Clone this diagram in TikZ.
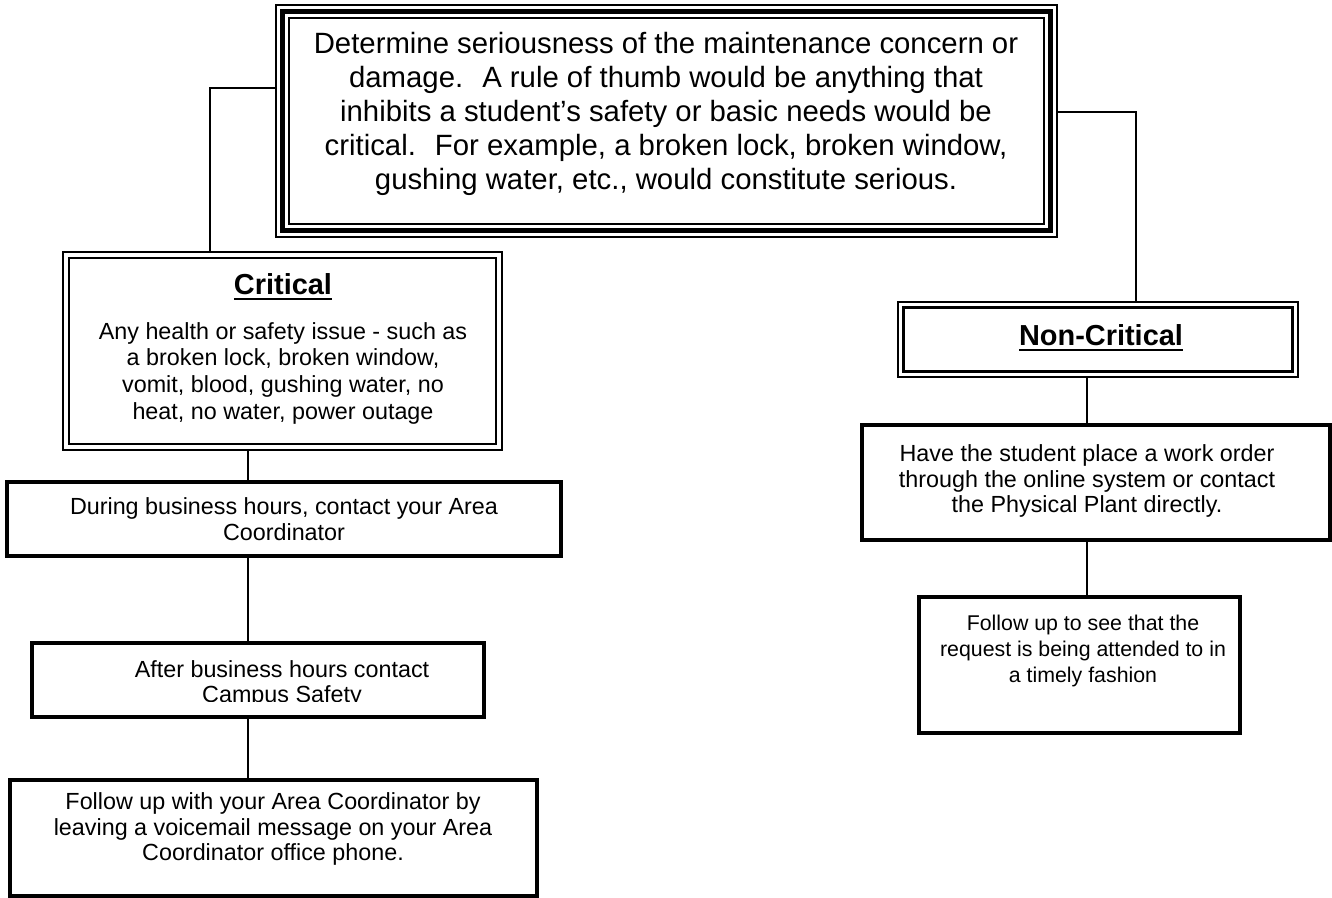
\documentclass[tikz,border=0pt]{standalone}
\usepackage{fontspec}
\setmainfont{Liberation Sans}
\newcommand\myul[1]{\setbox0\hbox{#1}\rlap{\vrule width\wd0 height -2pt depth 3.8pt}\box0}
\begin{document}
\begin{tikzpicture}[x=0.75pt,y=-0.75pt,
  conn/.style={line width=1.1pt},
  bsize/.style 2 args={minimum width=#1*0.75pt, minimum height=#2*0.75pt},
  plainbox/.style={draw, line width=2.6pt, fill=white, rectangle, inner sep=0pt, outer sep=0pt, line join=miter},
  dblbox/.style={draw, line width=1pt, fill=white, rectangle, inner sep=0pt, outer sep=0pt, line join=miter},
  toptxt/.style={align=center, inner sep=0pt, font=\fontsize{22}{25.5}\selectfont},
  titletxt/.style={align=center, inner sep=0pt, font=\fontsize{21.7}{25}\selectfont\bfseries},
  bodytxt/.style={align=center, inner sep=0pt, font=\fontsize{17.5}{19.2}\selectfont},
  smalltxt/.style={align=center, inner sep=0pt, font=\fontsize{16}{19.2}\selectfont},
  critbody/.style={align=center, inner sep=0pt, font=\fontsize{17.5}{20}\selectfont}
]
\useasboundingbox (0,0) rectangle (1332,898);

% boxes
\node[dblbox, line width=1.1pt, bsize={781}{232}] (top) at (666.5,121) {};
\draw[line width=3.75pt] ([shift={(6.5,6.5)}]top.north west) rectangle ([shift={(-6.5,-6.5)}]top.south east);
\draw[line width=1.1pt] ([shift={(13,13)}]top.north west) rectangle ([shift={(-13,-13)}]top.south east);

\node[dblbox, bsize={439}{198}] (crit) at (282.5,351) {};
\draw[line width=1.6pt] ([shift={(6,6)}]crit.north west) rectangle ([shift={(-6,-6)}]crit.south east);

\node[dblbox, bsize={400}{75}] (noncrit) at (1098,339.5) {};
\draw[line width=1.6pt] ([shift={(5.5,5.5)}]noncrit.north west) rectangle ([shift={(-5.5,-5.5)}]noncrit.south east);

\node[plainbox, bsize={554}{74}] (biz) at (284,519) {};
\node[plainbox, bsize={452}{74}] (after) at (258,680) {};
\node[plainbox, bsize={527}{116}] (final) at (273.5,838) {};
\node[plainbox, bsize={468}{115}] (have) at (1096,482.5) {};
\node[plainbox, bsize={321}{136}] (follow) at (1079.5,665) {};

% texts
\node[toptxt] (topT) at (666,114) {Determine seriousness of the maintenance concern or\\
damage.~ A rule of thumb would be anything that\\
inhibits a student’s safety or basic needs would be\\
critical.~ For example, a broken lock, broken window,\\
gushing water, etc., would constitute serious.};

\node[titletxt] (critH) at (283,287) {\myul{Critical}};
\node[critbody] (critT) at (283,373) {Any health or safety issue - such as\\
a broken lock, broken window,\\
vomit, blood, gushing water, no\\
heat, no water, power outage};

\node[titletxt] (noncritH) at (1101,338) {\myul{Non-Critical}};

\node[bodytxt] (bizT) at (284,519) {During business hours, contact your Area\\ Coordinator};
\begin{scope}
\clip (32,643) rectangle (484,701);
\node[bodytxt] (afterT) at (282,684) {After business hours contact\\ Campus Safety};
\end{scope}
\node[bodytxt] (finalT) at (273,829) {Follow up with your Area Coordinator by\\
leaving a voicemail message on your Area\\
Coordinator office phone.};
\node[bodytxt] (haveT) at (1087,481) {Have the student place a work order\\
through the online system or contact\\
the Physical Plant directly.};
\node[smalltxt] (followT) at (1083,651) {Follow up to see that the\\
request is being attended to in\\
a timely fashion};

% connectors
\coordinate (ly) at (0,88);
\coordinate (ry) at (0,112);
\coordinate (cL) at ([shift={(147,0)}]crit.north west);
\coordinate (cR) at ([shift={(238,0)}]noncrit.north west);
\draw[conn] (top.west |- ly) -| (cL);
\draw[conn] (top.east |- ry) -| (cR);
\coordinate (v1) at ([shift={(185,0)}]crit.south west);
\draw[conn] (v1) -- (v1 |- biz.north);
\draw[conn] (v1 |- biz.south) -- (v1 |- after.north);
\draw[conn] (v1 |- after.south) -- (v1 |- final.north);
\coordinate (v2) at ([shift={(189,0)}]noncrit.south west);
\draw[conn] (v2) -- (v2 |- have.north);
\draw[conn] (v2 |- have.south) -- (v2 |- follow.north);
\end{tikzpicture}
\end{document}
